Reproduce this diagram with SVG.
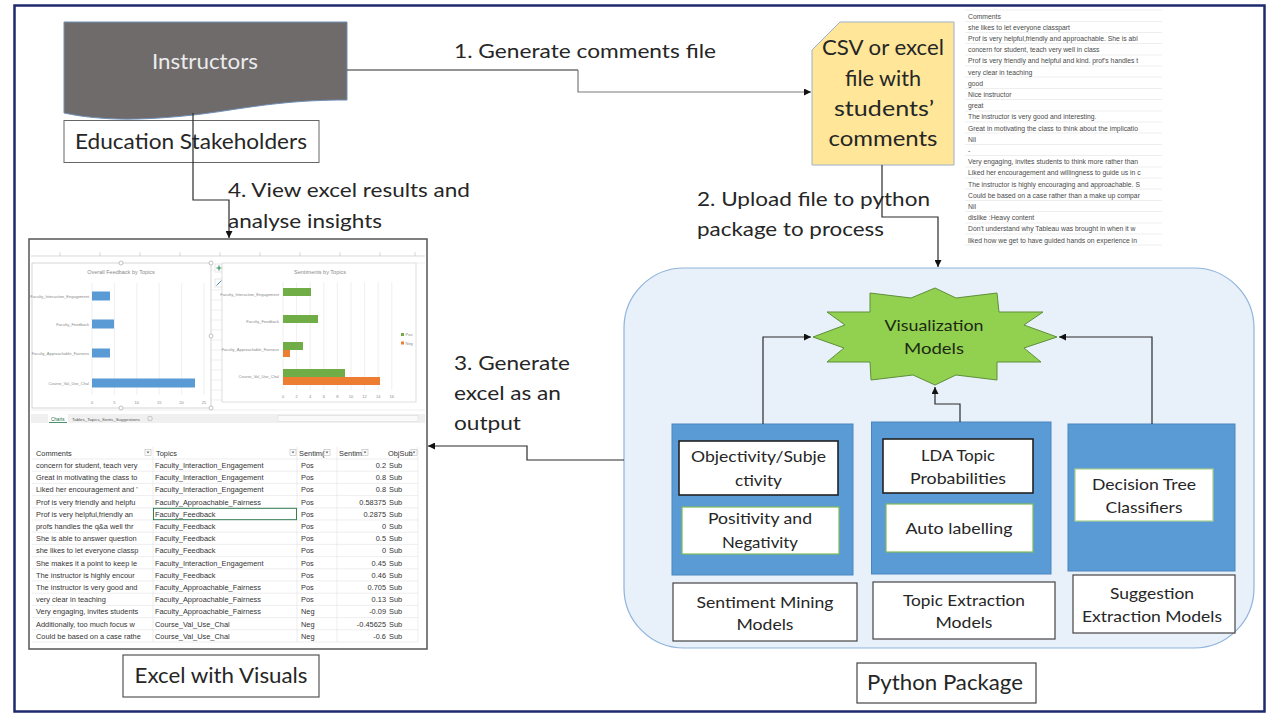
<svg xmlns="http://www.w3.org/2000/svg" width="1269" height="714" viewBox="0 0 1269 714">
<style>
.t{font-family:Lato,"Liberation Sans",sans-serif;fill:#262626}
.c{text-anchor:middle}
.big{font-size:21px}
.lbl{font-size:20px}
.mid{font-size:16px}
.box{fill:#fff;stroke:#444;stroke-width:1.2}
.blue{fill:#5b9bd5;stroke:#4a86c0;stroke-width:1}
.conn{fill:none;stroke:#2a2a2a;stroke-width:1.2}
.connG{fill:none;stroke:#7a7a7a;stroke-width:1.2}
.cl{font-family:"Liberation Sans",Arial,sans-serif;font-size:6.8px;fill:#4a4a4a}
.tb{font-family:"Liberation Sans",Arial,sans-serif;font-size:7.4px;fill:#333}
.ch{font-family:"Liberation Sans",Arial,sans-serif;font-size:4px;fill:#8a8a8a}
.grid{stroke:#e4e4e4;stroke-width:0.6}
.row{stroke:#e2e2e2;stroke-width:0.6}
</style>
<defs>
<marker id="ah" viewBox="0 0 10 10" refX="10" refY="5" markerWidth="7" markerHeight="7" markerUnits="userSpaceOnUse" orient="auto">
<path d="M0,0 L10,5 L0,10 Z" fill="#111"/>
</marker>
<clipPath id="clipList"><rect x="964" y="8" width="198" height="240"/></clipPath>
<clipPath id="clipCom"><rect x="30" y="440" width="123" height="205"/></clipPath>
</defs>
<rect width="1269" height="714" fill="#fff"/>
<rect x="14.5" y="5.5" width="1250" height="706" fill="none" stroke="#1f2a6e" stroke-width="2.5"/>

<!-- Python package container -->
<g id="python-package-area">
<rect x="624" y="268" width="630" height="380" rx="60" ry="60" fill="#e8f0f9" stroke="#8fb3dc" stroke-width="1.2"/>
</g>

<g id="instructors">
<path d="M64,22 H347 V100 C300,100 270,104 230,110 C180,118 130,121 100,118 C85,117 74,115 64,113 Z" fill="#706b6b" stroke="#6e8fb5" stroke-width="1"/>
<text class="t c" x="205" y="69" font-size="22" fill="#ececec" style="fill:#ececec" textLength="106" lengthAdjust="spacingAndGlyphs">Instructors</text>
</g>

<g id="education-stakeholders">
<rect x="64" y="120.5" width="255" height="42" fill="#fff" stroke="#666" stroke-width="1"/>
<text class="t big c" x="191" y="149" textLength="232" lengthAdjust="spacingAndGlyphs">Education Stakeholders</text>
</g>

<g id="csv-file">
<path d="M840,22 H954 V165 H812 V50 Z" fill="#ffe699" stroke="#9db0c8" stroke-width="1"/>
<text class="t big c" x="883" y="55" textLength="122" lengthAdjust="spacingAndGlyphs">CSV or excel</text>
<text class="t big c" x="883" y="86" textLength="76" lengthAdjust="spacingAndGlyphs">file with</text>
<text class="t big c" x="884" y="116" textLength="100" lengthAdjust="spacingAndGlyphs">students’</text>
<text class="t big c" x="883" y="146" textLength="109" lengthAdjust="spacingAndGlyphs">comments</text>
</g>

<g id="comments-list">
<g class="row">
<line x1="965" y1="10" x2="1162" y2="10"/><line x1="965" y1="21.5" x2="1162" y2="21.5"/><line x1="965" y1="32.5" x2="1162" y2="32.5"/><line x1="965" y1="43.5" x2="1162" y2="43.5"/><line x1="965" y1="55" x2="1162" y2="55"/><line x1="965" y1="66" x2="1162" y2="66"/><line x1="965" y1="77" x2="1162" y2="77"/><line x1="965" y1="88.5" x2="1162" y2="88.5"/><line x1="965" y1="99.5" x2="1162" y2="99.5"/><line x1="965" y1="111" x2="1162" y2="111"/><line x1="965" y1="122" x2="1162" y2="122"/><line x1="965" y1="133" x2="1162" y2="133"/><line x1="965" y1="144.5" x2="1162" y2="144.5"/><line x1="965" y1="155.5" x2="1162" y2="155.5"/><line x1="965" y1="167" x2="1162" y2="167"/><line x1="965" y1="178" x2="1162" y2="178"/><line x1="965" y1="189" x2="1162" y2="189"/><line x1="965" y1="200.5" x2="1162" y2="200.5"/><line x1="965" y1="211.5" x2="1162" y2="211.5"/><line x1="965" y1="223" x2="1162" y2="223"/><line x1="965" y1="234" x2="1162" y2="234"/><line x1="965" y1="245" x2="1162" y2="245"/>
</g>
<g clip-path="url(#clipList)">
<text class="cl" x="968" y="18.5">Comments</text>
<text class="cl" x="968" y="29.5">she likes to let everyone classpart</text>
<text class="cl" x="968" y="41">Prof is very helpful,friendly and approachable. She is abl</text>
<text class="cl" x="968" y="52">concern for student, teach very well in class</text>
<text class="cl" x="968" y="63">Prof is very friendly and helpful and kind. prof's handles t</text>
<text class="cl" x="968" y="74.5">very clear in teaching</text>
<text class="cl" x="968" y="85.5">good</text>
<text class="cl" x="968" y="97">Nice instructor</text>
<text class="cl" x="968" y="108">great</text>
<text class="cl" x="968" y="119">The instructor is very good and interesting.</text>
<text class="cl" x="968" y="130.5">Great in motivating the class to think about the implicatio</text>
<text class="cl" x="968" y="141.5">Nil</text>
<text class="cl" x="968" y="153">-</text>
<text class="cl" x="968" y="164">Very engaging, invites students to think more rather than</text>
<text class="cl" x="968" y="175">Liked her encouragement and willingness to guide us in c</text>
<text class="cl" x="968" y="186.5">The instructor is highly encouraging and approachable. S</text>
<text class="cl" x="968" y="197.5">Could be based on a case rather than a make up compar</text>
<text class="cl" x="968" y="209">Nil</text>
<text class="cl" x="968" y="220">dislike :Heavy content</text>
<text class="cl" x="968" y="231">Don't understand why Tableau was brought in when it w</text>
<text class="cl" x="968" y="242.5">liked how we get to have guided hands on experience in</text>
</g>
</g>

<g id="excel-visuals">
<rect x="29" y="239" width="398" height="410" fill="#fff" stroke="#555" stroke-width="1.5"/>
<!-- column header strip -->
<line x1="31" y1="256" x2="425" y2="256" stroke="#cfcfcf" stroke-width="0.8"/>
<g stroke="#bdbdbd" stroke-width="0.6">
<line x1="60" y1="252" x2="60" y2="256"/><line x1="100" y1="252" x2="100" y2="256"/><line x1="140" y1="252" x2="140" y2="256"/><line x1="180" y1="252" x2="180" y2="256"/><line x1="220" y1="252" x2="220" y2="256"/><line x1="260" y1="252" x2="260" y2="256"/><line x1="300" y1="252" x2="300" y2="256"/><line x1="340" y1="252" x2="340" y2="256"/><line x1="380" y1="252" x2="380" y2="256"/><line x1="415" y1="252" x2="415" y2="256"/>
</g>
<g class="grid">
<line x1="211" y1="270" x2="222" y2="270"/><line x1="211" y1="290" x2="222" y2="290"/><line x1="211" y1="300" x2="222" y2="300"/><line x1="211" y1="310" x2="222" y2="310"/><line x1="211" y1="320" x2="222" y2="320"/><line x1="211" y1="330" x2="222" y2="330"/><line x1="211" y1="340" x2="222" y2="340"/><line x1="211" y1="350" x2="222" y2="350"/><line x1="211" y1="360" x2="222" y2="360"/><line x1="211" y1="370" x2="222" y2="370"/><line x1="211" y1="380" x2="222" y2="380"/><line x1="211" y1="390" x2="222" y2="390"/><line x1="211" y1="400" x2="222" y2="400"/>
<line x1="31" y1="410" x2="425" y2="410"/><line x1="416" y1="263" x2="425" y2="263"/>
</g>
<!-- left chart -->
<rect x="32" y="263" width="179" height="145" fill="#fff" stroke="#c4c4c4" stroke-width="0.7"/>
<text class="ch" x="121" y="274" text-anchor="middle" font-size="5.5" style="font-size:5.5px">Overall Feedback by Topics</text>
<g class="grid">
<line x1="92" y1="283" x2="92" y2="395"/><line x1="114.4" y1="283" x2="114.4" y2="395"/><line x1="136.8" y1="283" x2="136.8" y2="395"/><line x1="159.2" y1="283" x2="159.2" y2="395"/><line x1="181.6" y1="283" x2="181.6" y2="395"/><line x1="204" y1="283" x2="204" y2="395"/>
</g>
<g fill="#5b9bd5">
<rect x="92" y="291.5" width="18" height="9"/>
<rect x="92" y="319.5" width="22" height="9"/>
<rect x="92" y="348.5" width="18" height="9"/>
<rect x="92" y="378.5" width="103" height="9"/>
</g>
<g class="ch" text-anchor="end">
<text x="89" y="297.5">Faculty_Interaction_Engagement</text>
<text x="89" y="325.5">Faculty_Feedback</text>
<text x="89" y="354.5">Faculty_Approachable_Fairness</text>
<text x="89" y="384.5">Course_Val_Use_Chal</text>
</g>
<g class="ch" text-anchor="middle">
<text x="92" y="404">0</text><text x="114.4" y="404">5</text><text x="136.8" y="404">10</text><text x="159.2" y="404">15</text><text x="181.6" y="404">20</text><text x="204" y="404">25</text>
</g>
<g fill="#fff" stroke="#9a9a9a" stroke-width="0.6">
<circle cx="121" cy="263" r="2"/><circle cx="211" cy="263" r="2"/><circle cx="211" cy="336" r="2"/><circle cx="121" cy="408" r="2"/><circle cx="211" cy="408" r="2"/>
</g>
<rect x="215" y="264" width="8" height="8" fill="#fff" stroke="#cfcfcf" stroke-width="0.5"/>
<path d="M219,265.5 V270.5 M216.5,268 H221.5" stroke="#2e8b57" stroke-width="1.1"/>
<rect x="215" y="279" width="8" height="8" fill="#fff" stroke="#cfcfcf" stroke-width="0.5"/>
<path d="M216.5,285.5 L221.5,280.5" stroke="#4a86c0" stroke-width="1"/>
<!-- right chart -->
<rect x="222" y="263" width="194" height="139" fill="#fff" stroke="#d0d0d0" stroke-width="0.7"/>
<text class="ch" x="320" y="274" text-anchor="middle" style="font-size:5.5px">Sentiments by Topics</text>
<g class="grid">
<line x1="283" y1="282" x2="283" y2="390"/><line x1="296.6" y1="282" x2="296.6" y2="390"/><line x1="310.2" y1="282" x2="310.2" y2="390"/><line x1="323.8" y1="282" x2="323.8" y2="390"/><line x1="337.4" y1="282" x2="337.4" y2="390"/><line x1="351" y1="282" x2="351" y2="390"/><line x1="364.6" y1="282" x2="364.6" y2="390"/><line x1="378.2" y1="282" x2="378.2" y2="390"/><line x1="391.8" y1="282" x2="391.8" y2="390"/>
</g>
<g fill="#70ad47">
<rect x="283" y="288" width="28" height="8"/>
<rect x="283" y="315" width="35" height="8"/>
<rect x="283" y="342" width="20" height="8"/>
<rect x="283" y="369" width="62" height="8"/>
</g>
<g fill="#ed7d31">
<rect x="283" y="350" width="7" height="7"/>
<rect x="283" y="377" width="97" height="8"/>
</g>
<g class="ch" text-anchor="end">
<text x="279" y="296">Faculty_Interaction_Engagement</text>
<text x="279" y="323">Faculty_Feedback</text>
<text x="279" y="351">Faculty_Approachable_Fairness</text>
<text x="279" y="378">Course_Val_Use_Chal</text>
</g>
<g class="ch" text-anchor="middle">
<text x="283" y="398">0</text><text x="296.6" y="398">2</text><text x="310.2" y="398">4</text><text x="323.8" y="398">6</text><text x="337.4" y="398">8</text><text x="351" y="398">10</text><text x="364.6" y="398">12</text><text x="378.2" y="398">14</text><text x="391.8" y="398">16</text>
</g>
<rect x="401" y="333" width="3" height="3" fill="#70ad47"/>
<text class="ch" x="405.5" y="336">Pos</text>
<rect x="401" y="341.5" width="3" height="3" fill="#ed7d31"/>
<text class="ch" x="405.5" y="344.5">Neg</text>
<!-- sheet tabs -->
<rect x="31" y="414" width="394" height="9" fill="#f0f0f0"/>
<rect x="48" y="414" width="20" height="9" fill="#fff"/>
<text class="ch" x="51" y="420.5" style="fill:#217346;font-size:4.6px">Charts</text>
<line x1="49" y1="422.5" x2="67" y2="422.5" stroke="#217346" stroke-width="0.8"/>
<text class="ch" x="72" y="420.5" style="font-size:4.4px;fill:#555">Tables_Topics_Sents_Suggestions</text>
<circle cx="150" cy="418.5" r="2.3" fill="none" stroke="#999" stroke-width="0.5"/>
<rect x="278" y="415.5" width="140" height="6" fill="#fafafa" stroke="#d5d5d5" stroke-width="0.5"/>
<!-- table -->
<g class="row">
<line x1="32" y1="459" x2="418" y2="459"/><line x1="32" y1="471.2" x2="418" y2="471.2"/><line x1="32" y1="483.4" x2="418" y2="483.4"/><line x1="32" y1="495.6" x2="418" y2="495.6"/><line x1="32" y1="507.8" x2="418" y2="507.8"/><line x1="32" y1="520" x2="418" y2="520"/><line x1="32" y1="532.2" x2="418" y2="532.2"/><line x1="32" y1="544.4" x2="418" y2="544.4"/><line x1="32" y1="556.6" x2="418" y2="556.6"/><line x1="32" y1="568.8" x2="418" y2="568.8"/><line x1="32" y1="581" x2="418" y2="581"/><line x1="32" y1="593.2" x2="418" y2="593.2"/><line x1="32" y1="605.4" x2="418" y2="605.4"/><line x1="32" y1="617.6" x2="418" y2="617.6"/><line x1="32" y1="629.8" x2="418" y2="629.8"/><line x1="32" y1="642" x2="418" y2="642"/>
<line x1="153" y1="447" x2="153" y2="642"/><line x1="297" y1="447" x2="297" y2="642"/><line x1="337" y1="447" x2="337" y2="642"/><line x1="418" y1="447" x2="418" y2="642"/>
</g>
<rect x="153.5" y="508.3" width="143" height="11.4" fill="none" stroke="#217346" stroke-width="0.9"/>
<g fill="#fff" stroke="#aaa" stroke-width="0.5">
<rect x="145" y="449.5" width="6" height="6"/><rect x="290" y="449.5" width="6" height="6"/><rect x="324" y="449.5" width="6" height="6"/><rect x="362" y="449.5" width="6" height="6"/><rect x="411" y="449.5" width="6" height="6"/>
</g>
<g fill="#666">
<path d="M146.5,451.5 h3 l-1.5,2 z"/><path d="M291.5,451.5 h3 l-1.5,2 z"/><path d="M325.5,451.5 h3 l-1.5,2 z"/><path d="M363.5,451.5 h3 l-1.5,2 z"/><path d="M412.5,451.5 h3 l-1.5,2 z"/>
</g>
<g class="tb">
<text x="36" y="455.5">Comments</text>
<text x="156" y="455.5">Topics</text>
<text x="299" y="455.5">Sentim(</text>
<text x="339" y="455.5">Sentim</text>
<text x="388" y="455.5">ObjSub</text>
</g>
<g class="tb" clip-path="url(#clipCom)">
<text x="36" y="468">concern for student, teach very</text>
<text x="36" y="480.2">Great in motivating the class to</text>
<text x="36" y="492.4">Liked her encouragement and '</text>
<text x="36" y="504.6">Prof is very friendly and helpfu</text>
<text x="36" y="516.8">Prof is very helpful,friendly an</text>
<text x="36" y="529">profs handles the q&amp;a well thr</text>
<text x="36" y="541.2">She is able to answer question</text>
<text x="36" y="553.4">she likes to let everyone classp</text>
<text x="36" y="565.6">She makes it a point to keep le</text>
<text x="36" y="577.8">The instructor is highly encour</text>
<text x="36" y="590">The instructor is very good and</text>
<text x="36" y="602.2">very clear in teaching</text>
<text x="36" y="614.4">Very engaging, invites students</text>
<text x="36" y="626.6">Additionally, too much focus w</text>
<text x="36" y="638.8">Could be based on a case rathe</text>
</g>
<g class="tb">
<text x="155" y="468">Faculty_Interaction_Engagement</text>
<text x="155" y="480.2">Faculty_Interaction_Engagement</text>
<text x="155" y="492.4">Faculty_Interaction_Engagement</text>
<text x="155" y="504.6">Faculty_Approachable_Fairness</text>
<text x="155" y="516.8">Faculty_Feedback</text>
<text x="155" y="529">Faculty_Feedback</text>
<text x="155" y="541.2">Faculty_Feedback</text>
<text x="155" y="553.4">Faculty_Feedback</text>
<text x="155" y="565.6">Faculty_Interaction_Engagement</text>
<text x="155" y="577.8">Faculty_Feedback</text>
<text x="155" y="590">Faculty_Approachable_Fairness</text>
<text x="155" y="602.2">Faculty_Approachable_Fairness</text>
<text x="155" y="614.4">Faculty_Approachable_Fairness</text>
<text x="155" y="626.6">Course_Val_Use_Chal</text>
<text x="155" y="638.8">Course_Val_Use_Chal</text>
</g>
<g class="tb">
<text x="301" y="468">Pos</text><text x="301" y="480.2">Pos</text><text x="301" y="492.4">Pos</text><text x="301" y="504.6">Pos</text><text x="301" y="516.8">Pos</text><text x="301" y="529">Pos</text><text x="301" y="541.2">Pos</text><text x="301" y="553.4">Pos</text><text x="301" y="565.6">Pos</text><text x="301" y="577.8">Pos</text><text x="301" y="590">Pos</text><text x="301" y="602.2">Pos</text><text x="301" y="614.4">Neg</text><text x="301" y="626.6">Neg</text><text x="301" y="638.8">Neg</text>
</g>
<g class="tb" text-anchor="end">
<text x="386" y="468">0.2</text><text x="386" y="480.2">0.8</text><text x="386" y="492.4">0.8</text><text x="386" y="504.6">0.58375</text><text x="386" y="516.8">0.2875</text><text x="386" y="529">0</text><text x="386" y="541.2">0.5</text><text x="386" y="553.4">0</text><text x="386" y="565.6">0.45</text><text x="386" y="577.8">0.46</text><text x="386" y="590">0.705</text><text x="386" y="602.2">0.13</text><text x="386" y="614.4">-0.09</text><text x="386" y="626.6">-0.45625</text><text x="386" y="638.8">-0.6</text>
</g>
<g class="tb">
<text x="389" y="468">Sub</text><text x="389" y="480.2">Sub</text><text x="389" y="492.4">Sub</text><text x="389" y="504.6">Sub</text><text x="389" y="516.8">Sub</text><text x="389" y="529">Sub</text><text x="389" y="541.2">Sub</text><text x="389" y="553.4">Sub</text><text x="389" y="565.6">Sub</text><text x="389" y="577.8">Sub</text><text x="389" y="590">Sub</text><text x="389" y="602.2">Sub</text><text x="389" y="614.4">Sub</text><text x="389" y="626.6">Sub</text><text x="389" y="638.8">Sub</text>
</g>
</g>

<g id="excel-with-visuals-label">
<rect x="123" y="655" width="196" height="42" fill="#fff" stroke="#555" stroke-width="1.2"/>
<text class="t big c" x="221" y="683" textLength="173" lengthAdjust="spacingAndGlyphs">Excel with Visuals</text>
</g>

<g id="visualization-models">
<path d="M935,288 L956,298 L997,293 L999,312 L1043,312 L1024,325 L1057,337 L1024,348 L1041,362 L997,362 L997,380 L956,375 L935,385 L913,375 L871,380 L870,362 L827,362 L844,348 L813,337 L845,325 L827,312 L870,312 L870,293 L911,298 Z" fill="#92d050" stroke="#5e8f3a" stroke-width="1"/>
<text class="t mid c" x="934" y="331" style="fill:#1c2a12" textLength="99" lengthAdjust="spacingAndGlyphs">Visualization</text>
<text class="t mid c" x="934" y="354" style="fill:#1c2a12" textLength="60" lengthAdjust="spacingAndGlyphs">Models</text>
</g>

<g id="sentiment-group">
<rect class="blue" x="672" y="424" width="181" height="151"/>
</g>
<g id="topic-group">
<rect class="blue" x="871.5" y="422" width="179.5" height="152"/>
</g>
<g id="suggestion-group">
<rect class="blue" x="1068" y="424" width="167" height="147"/>
</g>

<g id="objectivity">
<rect x="679" y="441" width="159" height="54" fill="#fff" stroke="#222" stroke-width="1.6"/>
<text class="t mid c" x="758.5" y="462" textLength="135" lengthAdjust="spacingAndGlyphs">Objectivity/Subje</text>
<text class="t mid c" x="758.5" y="486" textLength="47" lengthAdjust="spacingAndGlyphs">ctivity</text>
</g>
<g id="positivity">
<rect x="682" y="507" width="157" height="47" fill="#fff" stroke="#7dbb5a" stroke-width="1.2"/>
<text class="t mid c" x="760" y="524" textLength="104" lengthAdjust="spacingAndGlyphs">Positivity and</text>
<text class="t mid c" x="760" y="548" textLength="76" lengthAdjust="spacingAndGlyphs">Negativity</text>
</g>
<g id="lda">
<rect x="883" y="439" width="150" height="54" fill="#fff" stroke="#222" stroke-width="1.6"/>
<text class="t mid c" x="958" y="461" textLength="74" lengthAdjust="spacingAndGlyphs">LDA Topic</text>
<text class="t mid c" x="958" y="484" textLength="96" lengthAdjust="spacingAndGlyphs">Probabilities</text>
</g>
<g id="auto-labelling">
<rect x="886" y="504" width="147" height="48" fill="#fff" stroke="#7dbb5a" stroke-width="1.2"/>
<text class="t mid c" x="959" y="534" textLength="107" lengthAdjust="spacingAndGlyphs">Auto labelling</text>
</g>
<g id="decision-tree">
<rect x="1075" y="469" width="138" height="52" fill="#fff" stroke="#a9d18e" stroke-width="1.2"/>
<text class="t mid c" x="1144" y="490" textLength="104" lengthAdjust="spacingAndGlyphs">Decision Tree</text>
<text class="t mid c" x="1144" y="513" textLength="77" lengthAdjust="spacingAndGlyphs">Classifiers</text>
</g>

<g id="sentiment-mining-models">
<rect class="box" x="673" y="583" width="184" height="58"/>
<text class="t mid c" x="765" y="608" textLength="137" lengthAdjust="spacingAndGlyphs">Sentiment Mining</text>
<text class="t mid c" x="765" y="630" textLength="57" lengthAdjust="spacingAndGlyphs">Models</text>
</g>
<g id="topic-extraction-models">
<rect class="box" x="873" y="582" width="182" height="57"/>
<text class="t mid c" x="964" y="606" textLength="122" lengthAdjust="spacingAndGlyphs">Topic Extraction</text>
<text class="t mid c" x="964" y="628" textLength="57" lengthAdjust="spacingAndGlyphs">Models</text>
</g>
<g id="suggestion-extraction-models">
<rect class="box" x="1073" y="575" width="162" height="58"/>
<text class="t mid c" x="1152" y="599" textLength="84" lengthAdjust="spacingAndGlyphs">Suggestion</text>
<text class="t mid c" x="1152" y="622" textLength="140" lengthAdjust="spacingAndGlyphs">Extraction Models</text>
</g>
<g id="python-package">
<rect class="box" x="857" y="663" width="179" height="40"/>
<text class="t big c" x="945" y="690" textLength="156" lengthAdjust="spacingAndGlyphs">Python Package</text>
</g>

<g id="connectors">
<path class="conn" d="M347,70 H578"/>
<path class="connG" d="M578,70 V92 H811" marker-end="url(#ah)"/>
<path class="conn" d="M882,165 V217 H938 V267" marker-end="url(#ah)"/>
<path class="conn" d="M624,460 H527 V446 H428" marker-end="url(#ah)"/>
<path class="conn" d="M193,113 V200 H229 V238" marker-end="url(#ah)"/>
<path class="conn" d="M763,424 V337 H811" marker-end="url(#ah)"/>
<path class="conn" d="M960,422 V404 H935 V387" marker-end="url(#ah)"/>
<path class="conn" d="M1152,424 V337 H1059" marker-end="url(#ah)"/>
<text class="t lbl" x="454" y="58" textLength="262" lengthAdjust="spacingAndGlyphs">1. Generate comments file</text>
<text class="t lbl" x="697" y="206" textLength="233" lengthAdjust="spacingAndGlyphs">2. Upload file to python</text>
<text class="t lbl" x="697" y="236" textLength="187" lengthAdjust="spacingAndGlyphs">package to process</text>
<text class="t lbl" x="454" y="370" textLength="116" lengthAdjust="spacingAndGlyphs">3. Generate</text>
<text class="t lbl" x="454" y="400" textLength="107" lengthAdjust="spacingAndGlyphs">excel as an</text>
<text class="t lbl" x="454" y="430" textLength="67" lengthAdjust="spacingAndGlyphs">output</text>
<text class="t lbl" x="228" y="197" textLength="242" lengthAdjust="spacingAndGlyphs">4. View excel results and</text>
<text class="t lbl" x="228" y="228" textLength="154" lengthAdjust="spacingAndGlyphs">analyse insights</text>
</g>
</svg>
